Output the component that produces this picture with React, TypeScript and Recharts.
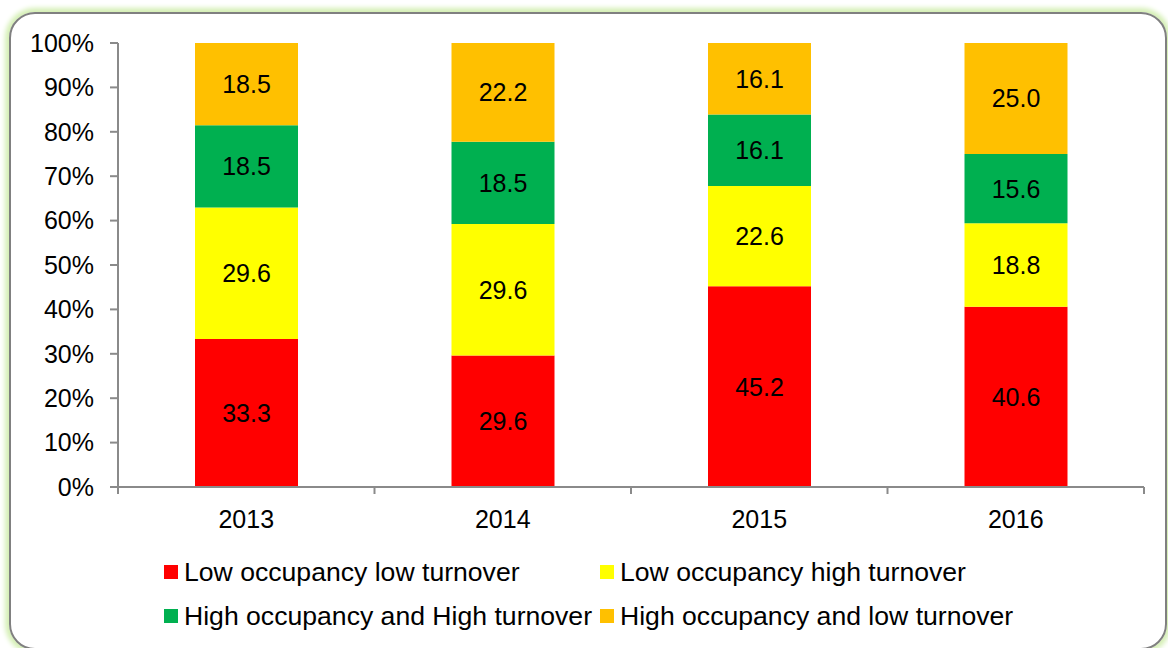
import React from 'react'
import { BarChart, Bar, XAxis, YAxis, Legend, LabelList } from 'recharts'

const years = ['2013', '2014', '2015', '2016']
const lowLow = [33.3, 29.6, 45.2, 40.6]
const lowHigh = [29.6, 29.6, 22.6, 18.8]
const highHigh = [18.5, 18.5, 16.1, 15.6]
const highLow = [18.5, 22.2, 16.1, 25.0]
const yTicks = [0, 0.1, 0.2, 0.3, 0.4, 0.5, 0.6, 0.7, 0.8, 0.9, 1]
const edgeTicks = [0, 1, 2, 3, 4]

const series = [
  { key: 'lowLow', name: 'Low occupancy low turnover', color: '#FF0000' },
  { key: 'lowHigh', name: 'Low occupancy high turnover', color: '#FFFF00' },
  { key: 'highHigh', name: 'High occupancy and High turnover', color: '#00B050' },
  { key: 'highLow', name: 'High occupancy and low turnover', color: '#FFC000' },
]

const data = years.map((year, i) => ({
  year,
  idx: i + 0.5,
  lowLow: lowLow[i],
  lowHigh: lowHigh[i],
  highHigh: highHigh[i],
  highLow: highLow[i],
}))

const FONT = '"Liberation Sans", Arial, sans-serif'
const AXIS = '#8a8a8a'

function LegendBox() {
  return (
    <div style={{ position: 'relative', height: 99, fontFamily: FONT, fontSize: 26.6, color: '#000' }}>
      {series.map((s, i) => (
        <div
          key={s.key}
          style={{
            position: 'absolute',
            left: 164 + (i % 2) * 436,
            top: 22 + Math.floor(i / 2) * 44,
            height: 44,
            display: 'flex',
            alignItems: 'center',
            whiteSpace: 'nowrap',
          }}
        >
          <span style={{ width: 14, height: 14, background: s.color, marginRight: 6, display: 'inline-block' }} />
          {s.name}
        </div>
      ))}
    </div>
  )
}

export default function App() {
  return (
    <div style={{ position: 'fixed', left: 0, top: 0, width: 1168, height: 648, overflow: 'hidden', background: '#fff' }}>
      <div
        style={{
          position: 'absolute',
          left: 9,
          top: 12,
          width: 1154,
          height: 634,
          border: '2px solid #808080',
          borderRadius: 26,
          boxShadow: '0 0 5px 4px #d4efb4',
        }}
      />
      <div style={{ position: 'absolute', left: 0, top: 0 }}>
        <BarChart
          width={1168}
          height={648}
          data={data}
          stackOffset="expand"
          margin={{ top: 43, right: 24, bottom: 21, left: 0 }}
        >
          {/* boundary ticks + axis line, like Excel's category axis */}
          <XAxis
            xAxisId={0}
            type="number"
            dataKey="idx"
            domain={[0, 4]}
            ticks={edgeTicks}
            axisLine={{ stroke: AXIS, strokeWidth: 2 }}
            tickFormatter={() => ''}
            tickSize={7}
            tickLine={{ stroke: AXIS, strokeWidth: 2 }}
            height={1}
          />
          <XAxis
            dataKey="year"
            xAxisId={1}
            tickLine={false}
            tickSize={0}
            tickMargin={22}
            height={40}
            axisLine={false}
            tick={{ fill: '#000', fontSize: 25, fontFamily: FONT }}
          />
          <YAxis
            width={118}
            domain={[0, 1]}
            ticks={yTicks}
            tickSize={8}
            tickMargin={16}
            tickFormatter={(v: number) => `${Math.round(v * 100)}%`}
            axisLine={{ stroke: AXIS, strokeWidth: 2 }}
            tickLine={{ stroke: AXIS, strokeWidth: 2 }}
            tick={{ fill: '#000', fontSize: 25, fontFamily: FONT }}
          />
          <Legend
            verticalAlign="bottom"
            content={() => <LegendBox />}
            wrapperStyle={{ left: 0, width: 1168, height: 99 }}
          />
          {series.map((s) => (
            <Bar
              key={s.key}
              dataKey={s.key}
              name={s.name}
              xAxisId={1}
              stackId="a"
              fill={s.color}
              barSize={103}
              isAnimationActive={false}
            >
              <LabelList
                dataKey={s.key}
                position="center"
                fill="#000"
                fontSize={25}
                fontFamily={FONT}
                formatter={(v: number) => Number(v).toFixed(1)}
              />
            </Bar>
          ))}
        </BarChart>
      </div>
    </div>
  )
}
